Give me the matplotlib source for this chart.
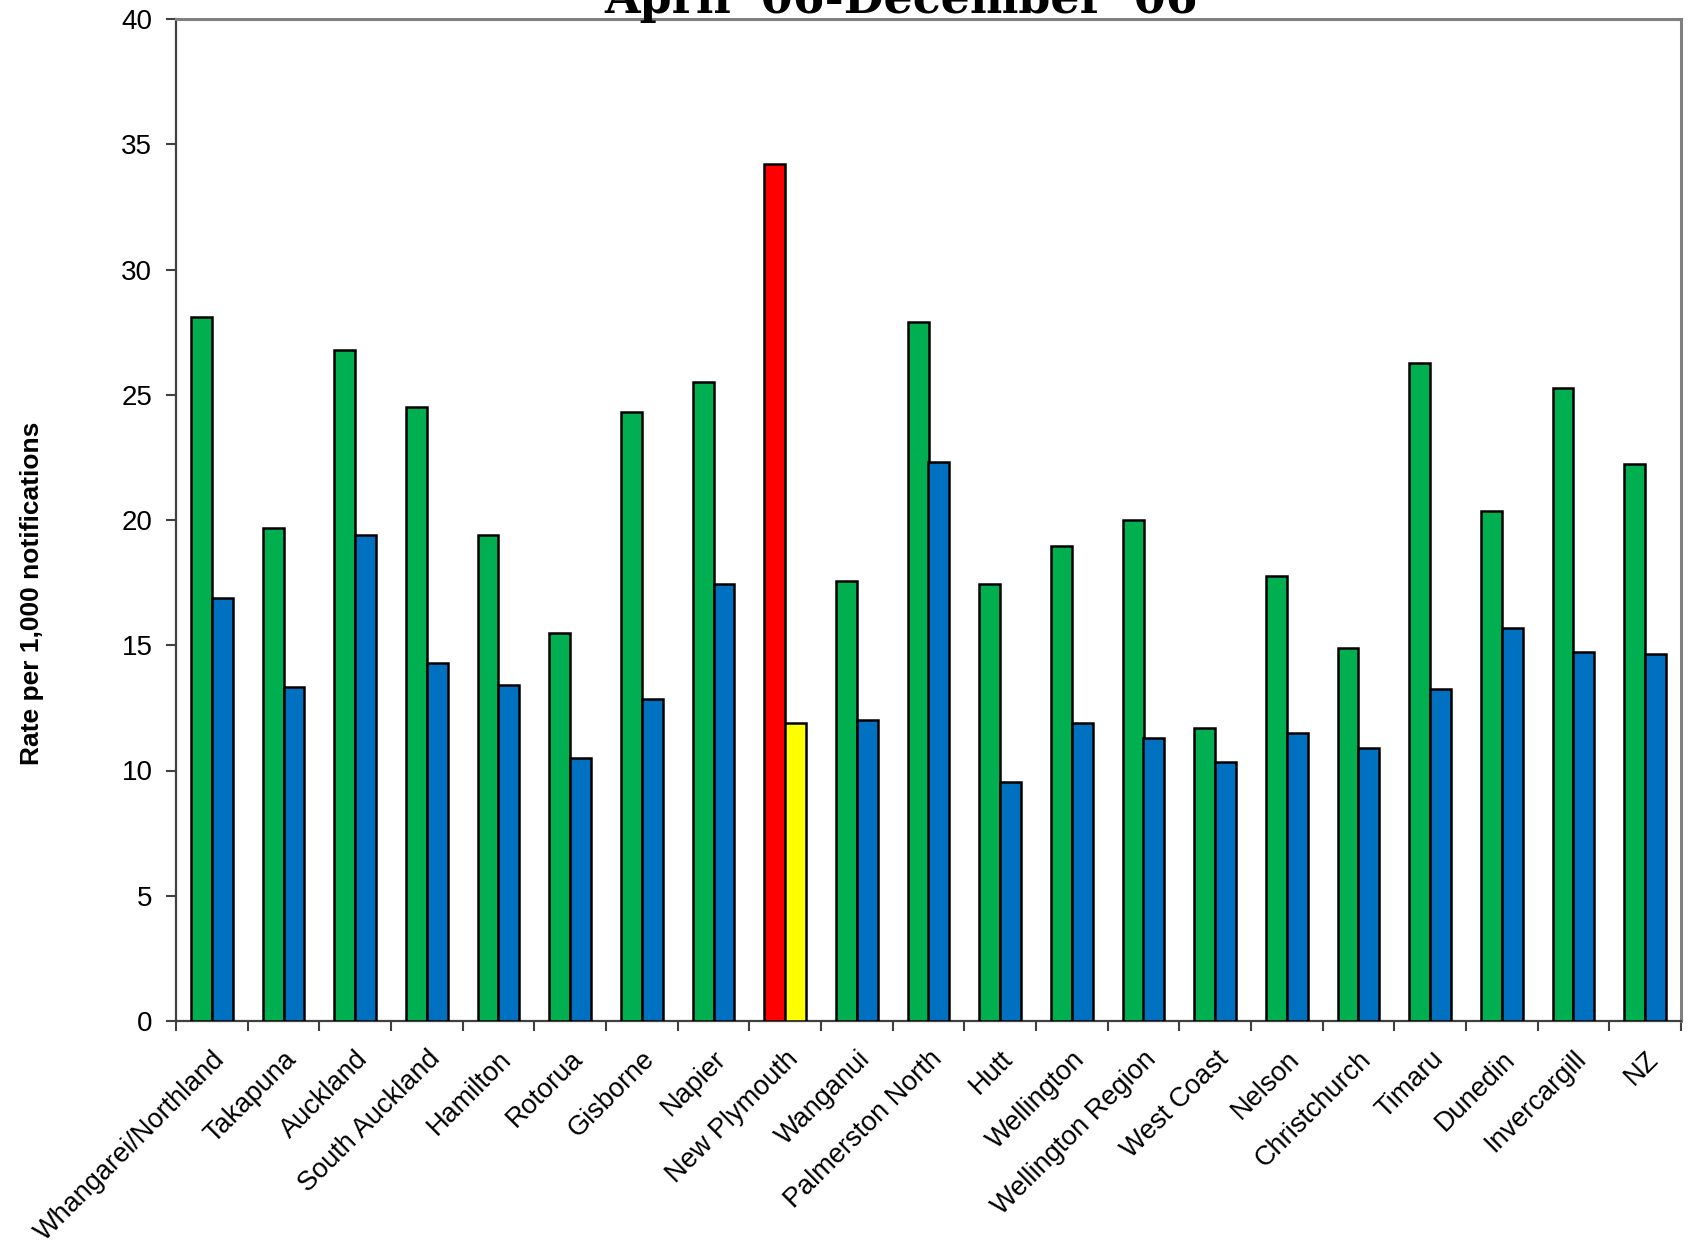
import matplotlib.pyplot as plt
import numpy as np

## Data ---------------------------------------------

offices = ["Whangarei/Northland", "Takapuna", "Auckland", "South Auckland", "Hamilton",
           "Rotorua", "Gisborne", "Napier", "New Plymouth", "Wanganui", "Palmerston North",
           "Hutt", "Wellington", "Wellington Region", "West Coast", "Nelson", "Christchurch",
           "Timaru", "Dunedin", "Invercargill", "NZ"]
first_rate = [28.1, 19.7, 26.8, 24.5, 19.4, 15.5, 24.3, 25.5, 34.2, 17.55, 27.9,
              17.45, 18.95, 20.0, 11.7, 17.75, 14.9, 26.25, 20.35, 25.25, 22.25]
second_rate = [16.9, 13.35, 19.4, 14.3, 13.4, 10.5, 12.85, 17.45, 11.9, 12.0, 22.3,
               9.55, 11.9, 11.3, 10.35, 11.5, 10.9, 13.25, 15.7, 14.75, 14.65]
highlight = "New Plymouth"
title = "April '06-December '06"
ylabel = "Rate per 1,000 notifications"

## Figure -------------------------------------------

plt.rcParams['font.family'] = ['Liberation Sans', 'DejaVu Sans']

fig = plt.figure(figsize=(16.88, 12.46), dpi=100)
ax = fig.add_axes([176 / 1688, 1 - 1021 / 1246, 1505 / 1688, 1002 / 1246])

x = np.arange(len(offices))
w = 0.29
green = ['#ff0000' if o == highlight else '#00b050' for o in offices]
blue = ['#ffff00' if o == highlight else '#0070c0' for o in offices]

ax.bar(x - w / 2, first_rate, w, color=green, edgecolor='black', linewidth=1.8, zorder=3)
ax.bar(x + w / 2, second_rate, w, color=blue, edgecolor='black', linewidth=1.8, zorder=3)

ax.set_xlim(-0.5, len(offices) - 0.5)
ax.set_ylim(0, 40)
ax.set_yticks(np.arange(0, 41, 5))

# category labels at centres, tick marks on the boundaries
ax.set_xticks(x)
ax.set_xticklabels(offices, rotation=45, ha='right', va='top', rotation_mode='anchor')
ax.set_xticks(np.arange(len(offices) + 1) - 0.5, minor=True)
ax.tick_params(axis='x', which='major', length=0, pad=18, labelsize=19.5)
ax.tick_params(axis='x', which='minor', length=7, width=1.5, color='#404040')
ax.tick_params(axis='y', length=7, width=1.5, color='#404040', pad=10, labelsize=20)

for side in ['left', 'bottom']:
    ax.spines[side].set_color('#404040')
    ax.spines[side].set_linewidth(1.6)
for side in ['top', 'right']:
    ax.spines[side].set_color('#808080')
    ax.spines[side].set_linewidth(2.2)

ax.set_ylabel(ylabel, fontsize=19, fontweight='bold')
ax.yaxis.set_label_coords(-0.088, 0.427)

fig.text(0.534, 1 - 13 / 1246, title, ha='center', va='baseline',
         fontsize=33, fontweight='bold', family='DejaVu Serif')

fig.savefig('out.png', dpi=100)
